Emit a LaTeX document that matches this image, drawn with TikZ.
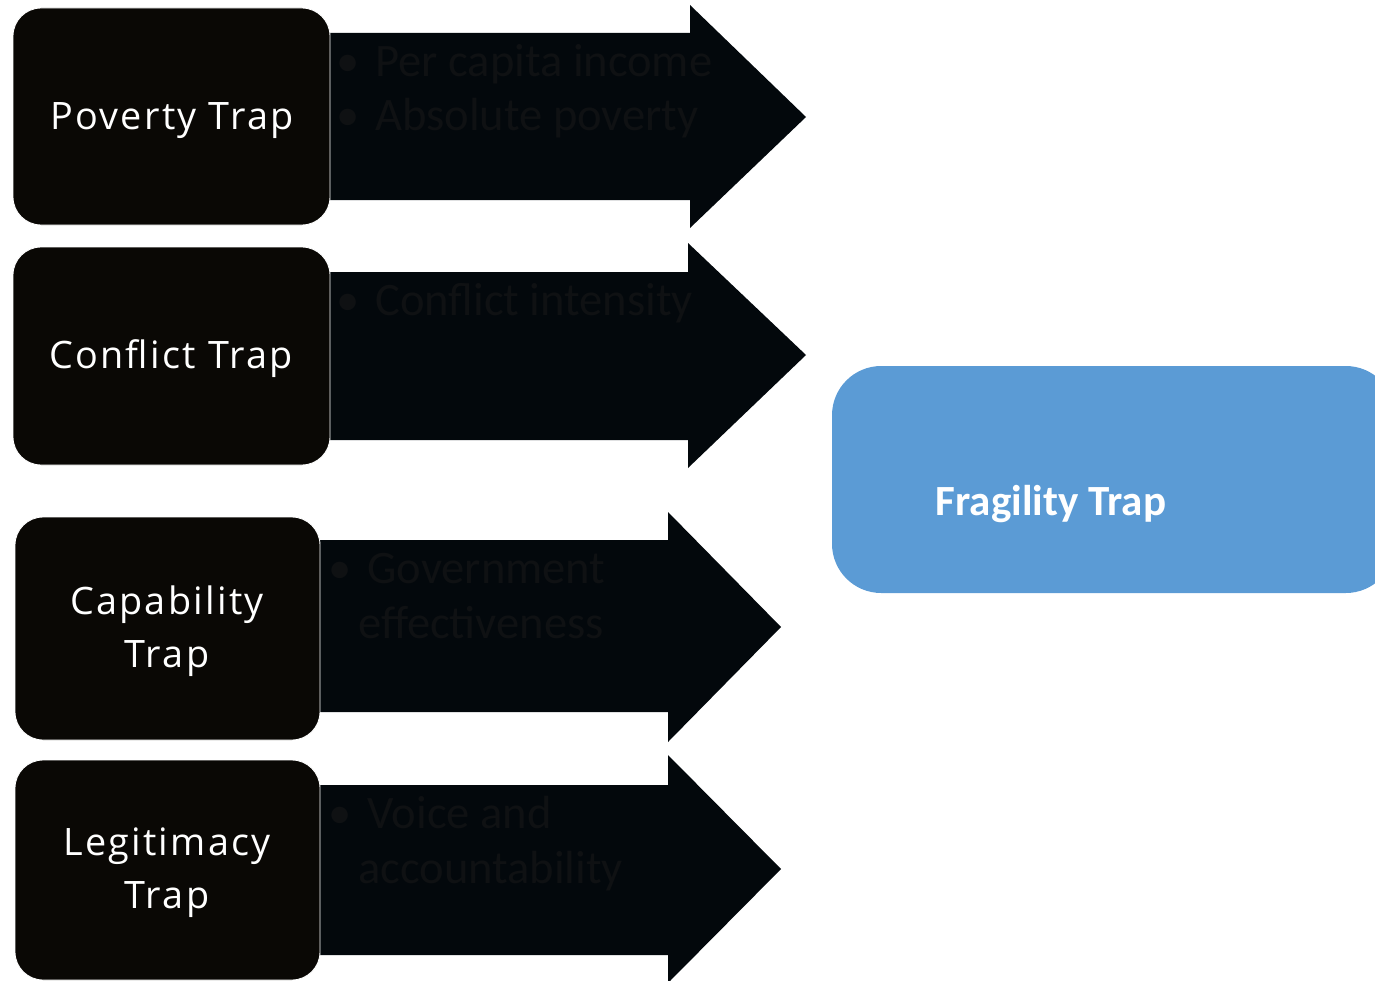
\documentclass[tikz,border=0pt]{standalone}
\usepackage{fontspec}
\setmainfont{Carlito}
\newfontfamily\boxfont[LetterSpace=6]{Open Sans}
\definecolor{boxblack}{RGB}{10,8,5}
\definecolor{arrowblack}{RGB}{3,8,12}
\definecolor{dimtext}{RGB}{15,17,19}
\definecolor{fragblue}{RGB}{91,155,213}
\tikzset{
  trapbox/.style={draw=white, line width=0.5pt, fill=boxblack, rounded corners=16pt},
  traplabel/.style={text=white, font=\boxfont\fontsize{21.5}{30}\selectfont, align=center, inner sep=0pt},
  arrowshape/.style={fill=arrowblack, draw=none},
  bullettext/.style={text=dimtext, font=\fontsize{26.5}{31}\selectfont, align=left, anchor=north west, inner sep=0pt},
  fragbox/.style={fill=fragblue, draw=none, rounded corners=28pt},
  fraglabel/.style={text=white, font=\bfseries\fontsize{24.5}{30}\selectfont, inner sep=0pt}
}
\begin{document}
\begin{tikzpicture}[x=0.02cm,y=-0.02cm]
\useasboundingbox (0,0) rectangle (1375,980);
\clip (0,0) rectangle (1375,980);
% arrows
\fill[arrowshape] (328,33) -- (690,33) -- (690,5) -- (806,117) -- (690,228) -- (690,200) -- (328,200) -- cycle;
\fill[arrowshape] (328,272) -- (688,272) -- (688,243) -- (806,355) -- (688,468) -- (688,440) -- (328,440) -- cycle;
\fill[arrowshape] (318,540) -- (668,540) -- (668,512) -- (781,627) -- (668,742) -- (668,712) -- (318,712) -- cycle;
\fill[arrowshape] (318,785) -- (668,785) -- (668,755) -- (781,869) -- (668,983) -- (668,955) -- (318,955) -- cycle;
% bullet texts
\node[bullettext] (t1) at (336,44) {\textbullet\hspace{9pt}Per capita income\\\textbullet\hspace{9pt}Absolute poverty};
\node[bullettext] (t2) at (336,283) {\textbullet\hspace{9pt}Conflict intensity};
\node[bullettext] (t3) at (328,553) {\textbullet\hspace{9pt}Government\\\hspace{17pt}effectiveness};
\node[bullettext] (t4) at (328,796) {\textbullet\hspace{9pt}Voice and\\\hspace{17pt}accountability};
% trap boxes
\path[trapbox] (13,8) rectangle (330,225);
\node[traplabel] (pt) at (172,121) {Poverty Trap};
\path[trapbox] (13,247) rectangle (330,465);
\node[traplabel] (ct) at (171,359) {Conflict Trap};
\path[trapbox] (15,517) rectangle (320,740);
\node[traplabel] (cap) at (167,631) {Capability\\Trap};
\path[trapbox] (15,760) rectangle (320,980);
\node[traplabel] (leg) at (167,873) {Legitimacy\\Trap};
% fragility
\path[fragbox] (832,366) rectangle (1395,593);
\node[fraglabel] (frag) at (1051,504) {Fragility Trap};
\end{tikzpicture}
\end{document}
